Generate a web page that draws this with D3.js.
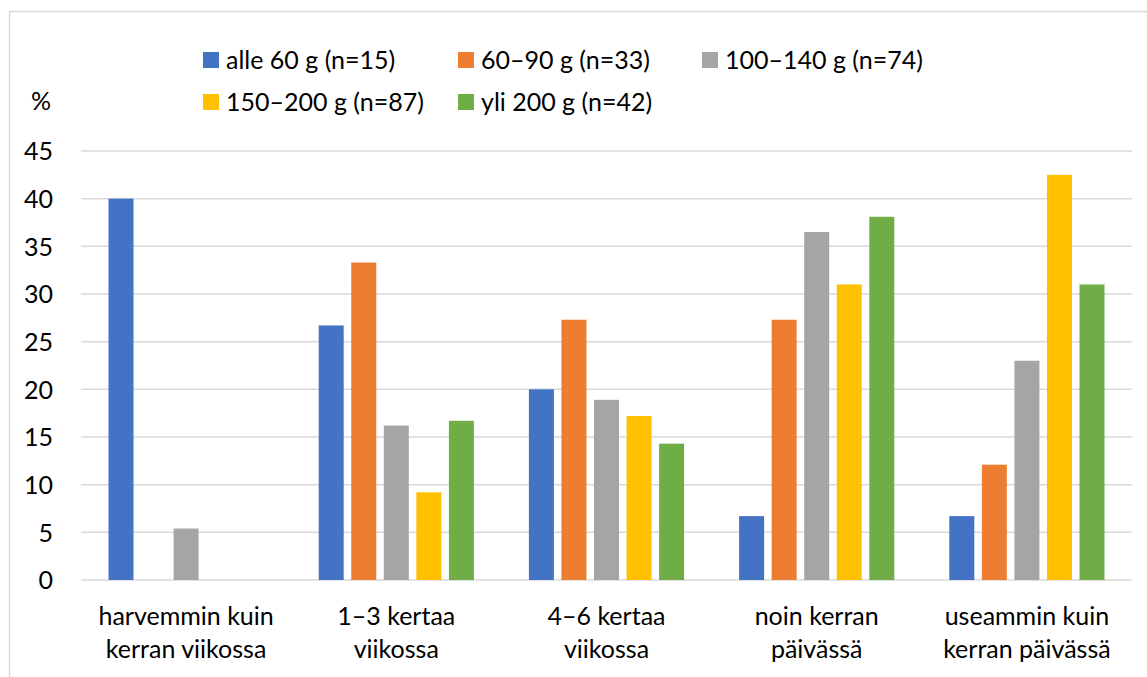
<!DOCTYPE html>
<html><head><meta charset="utf-8">
<script src="https://cdn.jsdelivr.net/npm/d3@7"></script>
<style>body{margin:0;background:#fff;} text{font-family:Lato,"Open Sans",sans-serif;fill:#000;}</style>
</head><body>
<svg id="c" width="1147" height="677"></svg>
<script>
const categories = [["harvemmin kuin","kerran viikossa"],["1–3 kertaa","viikossa"],["4–6 kertaa","viikossa"],["noin kerran","päivässä"],["useammin kuin","kerran päivässä"]];
const seriesNames = ["alle 60 g (n=15)","60–90 g (n=33)","100–140 g (n=74)","150–200 g (n=87)","yli 200 g (n=42)"];
const seriesColors = ["#4472C4","#ED7D31","#A5A5A5","#FFC000","#70AD47"];
const alle60 = [40.0, 26.7, 20.0, 6.7, 6.7];
const g60_90 = [0, 33.3, 27.3, 27.3, 12.1];
const g100_140 = [5.4, 16.2, 18.9, 36.5, 23.0];
const g150_200 = [0, 9.2, 17.2, 31.0, 42.5];
const yli200 = [0, 16.7, 14.3, 38.1, 31.0];
const seriesValues = [alle60, g60_90, g100_140, g150_200, yli200];
const yTicks = [0,5,10,15,20,25,30,35,40,45];

(function(){
const svg = d3.select("#c");
const fs = 25;
svg.append("rect").attr("x",9.5).attr("y",11.5).attr("width",1160).attr("height",700)
  .attr("fill","none").attr("stroke","#d9d9d9").attr("stroke-width",1.5);

const pLeft = 81, pRight = 1132, pTop = 151, pBottom = 580;
const x = d3.scaleBand().domain(d3.range(categories.length)).range([pLeft,pRight]).padding(0);
const bw = x.bandwidth();
const xs = d3.scaleBand().domain(d3.range(seriesNames.length)).range([27.5, bw-27.5]).paddingInner(0.232).paddingOuter(0);
const y = d3.scaleLinear().domain([0,45]).range([pBottom, pTop]);

svg.append("g").selectAll("line").data(yTicks).join("line")
  .attr("x1",pLeft).attr("x2",pRight).attr("y1",d=>y(d)).attr("y2",d=>y(d))
  .attr("stroke","#d9d9d9").attr("stroke-width",1.5);

const yAxis = d3.axisLeft(y).tickValues(yTicks).tickSize(0).tickPadding(0);
const ya = svg.append("g").attr("transform",`translate(53,0)`).call(yAxis);
ya.select(".domain").remove();
ya.selectAll("text").attr("font-size",fs).attr("font-family","Lato").attr("fill","#000").attr("dy","0.35em");

svg.append("text").attr("x",41).attr("y",101).attr("dy","0.35em").attr("text-anchor","middle").attr("font-size",fs).text("%");

const groups = svg.append("g").selectAll("g").data(seriesValues).join("g").attr("fill",(d,i)=>seriesColors[i]);
groups.each(function(vals, si){
  d3.select(this).selectAll("rect").data(vals).join("rect")
    .attr("x",(v,ci)=>x(ci)+xs(si)).attr("width",xs.bandwidth())
    .attr("y",v=>y(v)).attr("height",v=>y(0)-y(v));
});

const xl = svg.append("g").selectAll("text").data(categories).join("text")
  .attr("text-anchor","middle").attr("font-size",fs)
  .attr("x",(d,i)=>x(i)+bw/2);
xl.each(function(lines){
  const cx = d3.select(this).attr("x");
  d3.select(this).selectAll("tspan").data(lines).join("tspan")
    .attr("x", cx).attr("y",(l,i)=>625+i*33).text(l=>l);
});

const legPos = [[203,60],[458,60],[702,60],[203,102],[458,102]];
const leg = svg.append("g").selectAll("g").data(seriesNames).join("g")
  .attr("transform",(d,i)=>`translate(${legPos[i][0]},${legPos[i][1]})`);
leg.append("rect").attr("x",0).attr("y",-8).attr("width",16).attr("height",16).attr("fill",(d,i)=>seriesColors[i]);
leg.append("text").attr("x",23).attr("y",0).attr("dy","0.35em").attr("font-size",fs).text(d=>d);
})();
</script>
</body></html>
